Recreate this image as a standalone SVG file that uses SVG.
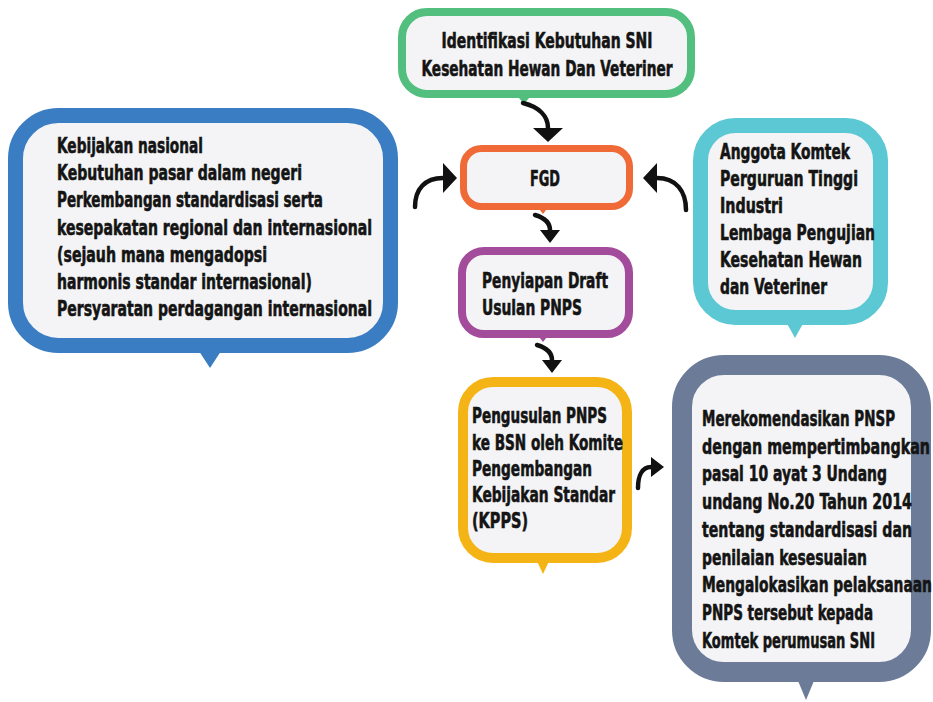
<svg xmlns="http://www.w3.org/2000/svg" width="933" height="702" viewBox="0 0 933 702">
<style>
  text { font-family: "DejaVu Sans Condensed", "Liberation Sans Narrow", "Liberation Sans", sans-serif; font-weight: bold; font-size: 22px; fill: #141414; stroke: #141414; stroke-width: 0.6; }
  .s21 text { font-size: 21px; }
  .mid { text-anchor: middle; }
  .box { fill: #f4f4f6; }
  .conn { fill: none; stroke: #111; stroke-width: 4.5; stroke-linecap: round; }
</style>
<defs>
  <marker id="headL" markerUnits="userSpaceOnUse" viewBox="0 0 14 30" refX="0" refY="15" markerWidth="14" markerHeight="30" orient="auto">
    <path d="M0,0 L14,15 L0,30 Z" fill="#111"/>
  </marker>
  <marker id="headS" markerUnits="userSpaceOnUse" viewBox="0 0 13 20" refX="0" refY="10" markerWidth="13" markerHeight="20" orient="auto">
    <path d="M0,0 L13,10 L0,20 Z" fill="#111"/>
  </marker>
</defs>
<rect width="933" height="702" fill="#ffffff"/>

<g id="node-identifikasi">
  <polygon points="514,92 534,92 524,104" fill="#52bf7e"/>
  <rect class="box" x="402" y="12" width="289" height="82" rx="25" stroke="#52bf7e" stroke-width="8"/>
  <g transform="translate(547,0) scale(0.65,1)">
    <text class="mid" x="0" y="48" textLength="324.6" lengthAdjust="spacingAndGlyphs">Identifikasi Kebutuhan SNI</text>
    <text class="mid" x="0" y="76" textLength="386.2" lengthAdjust="spacingAndGlyphs">Kesehatan Hewan Dan Veteriner</text>
  </g>
</g>

<g id="node-kebijakan">
  <polygon points="197,348 223,348 210,368" fill="#3b7dc3"/>
  <rect class="box" x="15.5" y="115.5" width="375" height="230" rx="43" stroke="#3b7dc3" stroke-width="15"/>
  <g class="s21" transform="translate(57,0) scale(0.65,1)">
    <text x="0" y="153" textLength="224.6" lengthAdjust="spacingAndGlyphs">Kebijakan nasional</text>
    <text x="0" y="180" textLength="376.9" lengthAdjust="spacingAndGlyphs">Kebutuhan pasar dalam negeri</text>
    <text x="0" y="207" textLength="409.2" lengthAdjust="spacingAndGlyphs">Perkembangan standardisasi serta</text>
    <text x="0" y="235" textLength="484.6" lengthAdjust="spacingAndGlyphs">kesepakatan regional dan internasional</text>
    <text x="0" y="262" textLength="323.1" lengthAdjust="spacingAndGlyphs">(sejauh mana mengadopsi</text>
    <text x="0" y="289" textLength="392.3" lengthAdjust="spacingAndGlyphs">harmonis standar internasional)</text>
    <text x="0" y="316" textLength="484.6" lengthAdjust="spacingAndGlyphs">Persyaratan perdagangan internasional</text>
  </g>
</g>

<g id="node-fgd">
  <polygon points="536,205 550,205 543,214" fill="#ef6a36"/>
  <rect class="box" x="463.5" y="148.5" width="166" height="58" rx="18" stroke="#ef6a36" stroke-width="7"/>
  <g transform="translate(545,0) scale(0.65,1)">
    <text class="mid" x="0" y="186" textLength="46.2" lengthAdjust="spacingAndGlyphs">FGD</text>
  </g>
</g>

<g id="node-anggota">
  <polygon points="785,320 805,320 795,338" fill="#5bc8d4"/>
  <rect class="box" x="700.5" y="125.5" width="180" height="192" rx="35" stroke="#5bc8d4" stroke-width="15"/>
  <g class="s21" transform="translate(720,0) scale(0.65,1)">
    <text x="0" y="159" textLength="200" lengthAdjust="spacingAndGlyphs">Anggota Komtek</text>
    <text x="0" y="186" textLength="212.3" lengthAdjust="spacingAndGlyphs">Perguruan Tinggi</text>
    <text x="0" y="213" textLength="96.9" lengthAdjust="spacingAndGlyphs">Industri</text>
    <text x="0" y="240" textLength="238.5" lengthAdjust="spacingAndGlyphs">Lembaga Pengujian</text>
    <text x="0" y="267" textLength="218.5" lengthAdjust="spacingAndGlyphs">Kesehatan Hewan</text>
    <text x="0" y="294" textLength="164.6" lengthAdjust="spacingAndGlyphs">dan Veteriner</text>
  </g>
</g>

<g id="node-draft">
  <polygon points="536,333 550,333 543,342" fill="#a24c9b"/>
  <rect class="box" x="462" y="251" width="167" height="83" rx="22" stroke="#a24c9b" stroke-width="8"/>
  <g transform="translate(482,0) scale(0.65,1)">
    <text x="0" y="288" textLength="193.8" lengthAdjust="spacingAndGlyphs">Penyiapan Draft</text>
    <text x="0" y="315" textLength="153.8" lengthAdjust="spacingAndGlyphs">Usulan PNPS</text>
  </g>
</g>

<g id="node-pengusulan">
  <polygon points="535,557 551,557 543,574" fill="#f5b416"/>
  <rect class="box" x="463" y="382" width="164" height="176" rx="30" stroke="#f5b416" stroke-width="10"/>
  <g transform="translate(472,0) scale(0.65,1)">
    <text x="0" y="423" textLength="207.7" lengthAdjust="spacingAndGlyphs">Pengusulan PNPS</text>
    <text x="0" y="450" textLength="232.3" lengthAdjust="spacingAndGlyphs">ke BSN oleh Komite</text>
    <text x="0" y="476" textLength="184.6" lengthAdjust="spacingAndGlyphs">Pengembangan</text>
    <text x="0" y="502" textLength="220" lengthAdjust="spacingAndGlyphs">Kebijakan Standar</text>
    <text x="0" y="528" textLength="86.2" lengthAdjust="spacingAndGlyphs">(KPPS)</text>
  </g>
</g>

<g id="node-merekomendasikan">
  <polygon points="796,676 816,676 806,700" fill="#6c7c98"/>
  <rect class="box" x="682" y="365" width="239" height="307" rx="42" stroke="#6c7c98" stroke-width="20"/>
  <g transform="translate(702,0) scale(0.65,1)">
    <text x="0" y="426" textLength="296.9" lengthAdjust="spacingAndGlyphs">Merekomendasikan PNSP</text>
    <text x="0" y="454" textLength="350.8" lengthAdjust="spacingAndGlyphs">dengan mempertimbangkan</text>
    <text x="0" y="481" textLength="284.6" lengthAdjust="spacingAndGlyphs">pasal 10 ayat 3 Undang</text>
    <text x="0" y="509" textLength="323.1" lengthAdjust="spacingAndGlyphs">undang No.20 Tahun 2014</text>
    <text x="0" y="537" textLength="323.1" lengthAdjust="spacingAndGlyphs">tentang standardisasi dan</text>
    <text x="0" y="565" textLength="253.8" lengthAdjust="spacingAndGlyphs">penilaian kesesuaian</text>
    <text x="0" y="592" textLength="353.8" lengthAdjust="spacingAndGlyphs">Mengalokasikan pelaksanaan</text>
    <text x="0" y="620" textLength="263.1" lengthAdjust="spacingAndGlyphs">PNPS tersebut kepada</text>
    <text x="0" y="648" textLength="266.2" lengthAdjust="spacingAndGlyphs">Komtek perumusan SNI</text>
  </g>
</g>

<g id="connectors">
  <path class="conn" d="M523,103 C539,107 548,116 548,128" marker-end="url(#headL)"/>
  <path class="conn" d="M415,207 C415,189 425,178 443,178" marker-end="url(#headL)"/>
  <path class="conn" d="M686,210 C686,191 676,178 657,178" marker-end="url(#headL)"/>
  <path class="conn" d="M535,215 C545,218 550,223 550,230" marker-end="url(#headS)"/>
  <path class="conn" d="M537,345 C547,348 552,353 552,360" marker-end="url(#headS)"/>
  <path class="conn" d="M638,488 C638,476 642,467 651,467" marker-end="url(#headS)"/>
</g>
</svg>
